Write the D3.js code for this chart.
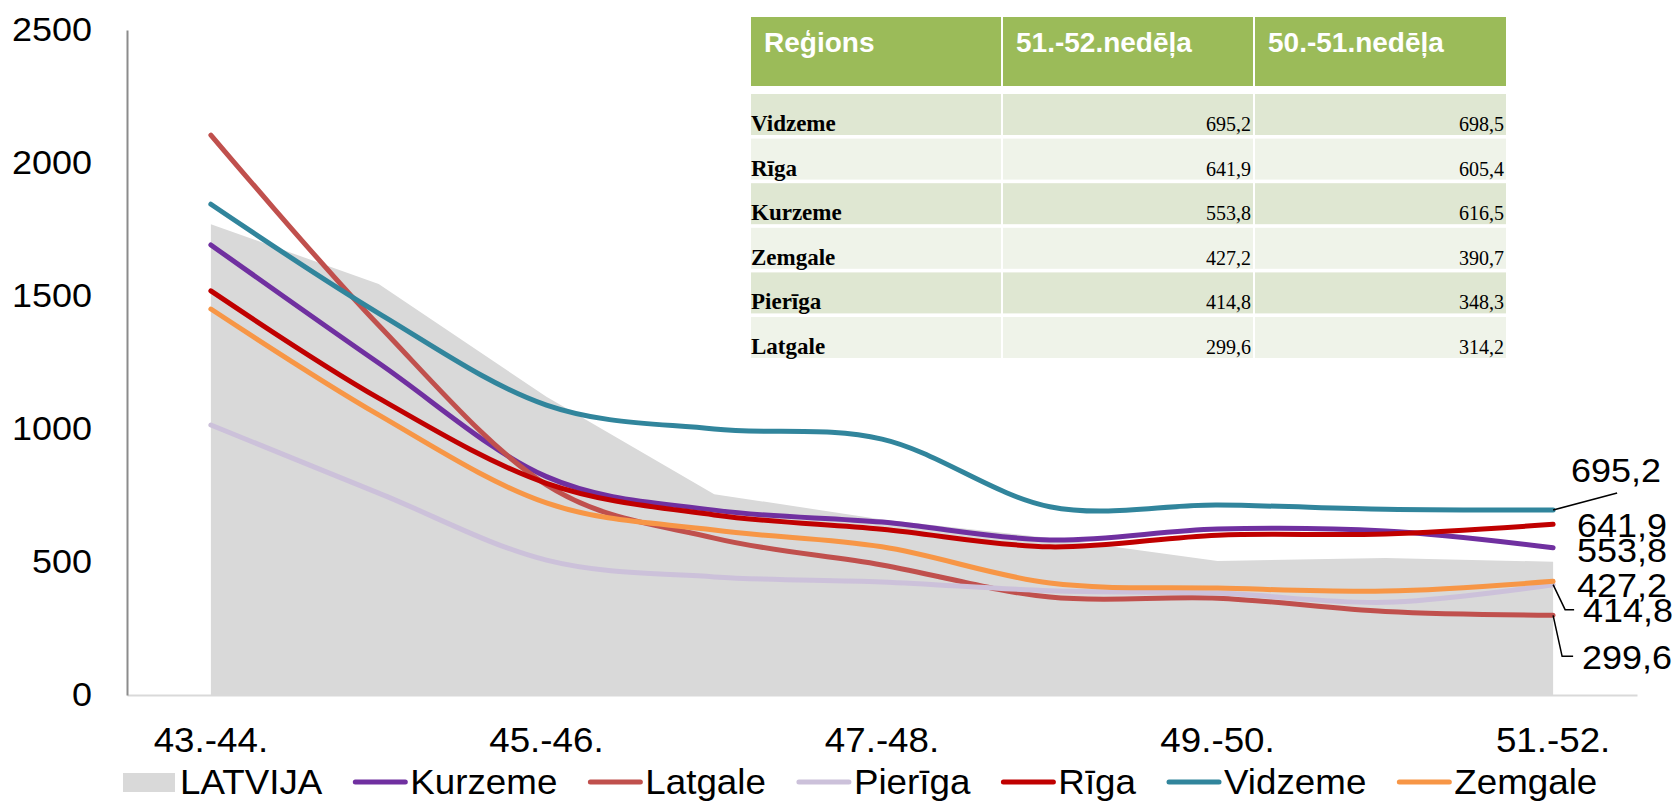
<!DOCTYPE html>
<html>
<head>
<meta charset="utf-8">
<script src="https://cdn.jsdelivr.net/npm/d3@7"></script>
<style>
  body { margin: 0; background: #fff; }
  svg { display: block; }
  text { font-family: "Liberation Sans", Arial, sans-serif; }
</style>
</head>
<body>
<div id="chart"></div>
<script>
// Categories (weeks)
const categories = ['43.-44.', '44.-45.', '45.-46.', '46.-47.', '47.-48.', '48.-49.', '49.-50.', '50.-51.', '51.-52.'];
const tickLabels = ['43.-44.', '45.-46.', '47.-48.', '49.-50.', '51.-52.'];
const yTicks = [0, 500, 1000, 1500, 2000, 2500];

// Series values
const latvija = [1770, 1545, 1121, 755, 660, 590, 504, 515, 501];
const kurzeme = [1692, 1248, 821, 695, 650, 583, 624, 616.5, 553.8];
const latgale = [2105, 1390, 790, 590, 489, 368, 364, 314.2, 299.6];
const pieriga = [1015, 759, 507, 444, 425, 392, 383, 348.3, 414.8];
const riga = [1519, 1116, 796, 677, 623, 557, 601, 605.4, 641.9];
const vidzeme = [1845, 1435, 1090, 1000, 962, 708, 714, 698.5, 695.2];
const zemgale = [1451, 1053, 722, 620, 557, 421, 402, 390.7, 427.2];

// Table
const tableHeader = ['Reģions', '51.-52.nedēļa', '50.-51.nedēļa'];
const tableRegions = ['Vidzeme', 'Rīga', 'Kurzeme', 'Zemgale', 'Pierīga', 'Latgale'];
const tablePrevWeek = [698.5, 605.4, 616.5, 390.7, 348.3, 314.2];

const lineSeries = [
  { name: 'Kurzeme', values: kurzeme, color: '#7030A0' },
  { name: 'Latgale', values: latgale, color: '#C0504D' },
  { name: 'Pierīga', values: pieriga, color: '#CCC1DA' },
  { name: 'Rīga', values: riga, color: '#C00000' },
  { name: 'Vidzeme', values: vidzeme, color: '#31859C' },
  { name: 'Zemgale', values: zemgale, color: '#F79646' }
];

// label offsets from the last point of each series (dx, dy, leader line)
const endLabels = {
  'Vidzeme': { dx: 18, dy: -28, leader: [[0, 0], [64, -17]] },
  'Rīga': { dx: 24, dy: 13 },
  'Kurzeme': { dx: 24, dy: 14 },
  'Zemgale': { dx: 24, dy: 16 },
  'Pierīga': { dx: 30, dy: 37, leader: [[0, 0], [12, 25], [21, 25]] },
  'Latgale': { dx: 29, dy: 54, leader: [[0, 0], [9, 41], [20, 41]] }
};

const width = 1677;
const height = 802;
const fmt = v => d3.format('.1f')(v).replace('.', ',');

// the original text is drawn a bit wider than the font
function widen(sel, k) {
  sel.each(function() {
    const w = this.getComputedTextLength();
    if (w > 0) {
      d3.select(this)
        .attr('textLength', w * k)
        .attr('lengthAdjust', 'spacingAndGlyphs');
    }
  });
}

const svg = d3.select('#chart')
  .append('svg')
  .attr('width', width)
  .attr('height', height);

const x = d3.scaleBand()
  .domain(categories)
  .range([127, 1637])
  .paddingInner(0)
  .paddingOuter(0);

const cx = c => x(c) + x.bandwidth() / 2;

const y = d3.scaleLinear()
  .domain([0, 2500])
  .range([695, 30]);

// Area for LATVIJA
const area = d3.area()
  .x((d, i) => cx(categories[i]))
  .y0(y(0))
  .y1(d => y(d));

svg.append('path')
  .datum(latvija)
  .attr('d', area)
  .attr('fill', '#D9D9D9');

// Axes
const xAxis = svg.append('g')
  .attr('transform', `translate(0,${y(0)})`)
  .call(d3.axisBottom(x)
    .tickSize(0)
    .tickPadding(32)
    .tickFormat(d => tickLabels.includes(d) ? d : ''));
xAxis.select('.domain').attr('stroke', '#D9D9D9').attr('stroke-width', 2);
xAxis.selectAll('text').attr('font-size', 35).attr('fill', '#000')
  .style('font-family', '"Liberation Sans", Arial, sans-serif');
widen(xAxis.selectAll('text'), 1.05);

const yAxis = svg.append('g')
  .attr('transform', 'translate(127,0)')
  .call(d3.axisLeft(y)
    .tickValues(yTicks)
    .tickSize(0)
    .tickSizeOuter(0)
    .tickPadding(35)
    .tickFormat(d3.format('d')));
yAxis.select('.domain').attr('stroke', '#8C8C8C').attr('stroke-width', 2);
yAxis.selectAll('text').attr('font-size', 33).attr('fill', '#000')
  .style('font-family', '"Liberation Sans", Arial, sans-serif');
widen(yAxis.selectAll('text'), 1.09);

// Lines
const line = d3.line()
  .x((d, i) => cx(categories[i]))
  .y(d => y(d))
  .curve(d3.curveCardinal.tension(0));

svg.selectAll('.series')
  .data(lineSeries)
  .enter()
  .append('path')
  .attr('class', 'series')
  .attr('d', d => line(d.values))
  .attr('fill', 'none')
  .attr('stroke', d => d.color)
  .attr('stroke-width', 5)
  .attr('stroke-linecap', 'round');

// End labels with leader lines
const last = categories[categories.length - 1];
lineSeries.forEach(s => {
  const lab = endLabels[s.name];
  const px = cx(last);
  const py = y(s.values[s.values.length - 1]);
  if (lab.leader) {
    svg.append('path')
      .attr('d', d3.line()(lab.leader.map(p => [px + p[0], py + p[1]])))
      .attr('fill', 'none')
      .attr('stroke', '#000')
      .attr('stroke-width', 1.5);
  }
  const t = svg.append('text')
    .attr('x', px + lab.dx)
    .attr('y', py + lab.dy)
    .attr('font-size', 33)
    .text(fmt(s.values[s.values.length - 1]));
  widen(t, 1.09);
});

// Legend
const legendItems = [{ name: 'LATVIJA', color: '#D9D9D9', area: true }].concat(lineSeries);
let lx = 123;
const ly = 782;
legendItems.forEach(item => {
  if (item.area) {
    svg.append('rect')
      .attr('x', lx).attr('y', ly - 9)
      .attr('width', 52).attr('height', 19)
      .attr('fill', item.color);
  } else {
    svg.append('line')
      .attr('x1', lx + 2).attr('x2', lx + 52)
      .attr('y1', ly).attr('y2', ly)
      .attr('stroke', item.color)
      .attr('stroke-width', 5)
      .attr('stroke-linecap', 'round');
  }
  const t = svg.append('text')
    .attr('x', lx + 57)
    .attr('y', ly + 12)
    .attr('font-size', 35)
    .text(item.name);
  const w = t.node().getComputedTextLength() * 1.05;
  widen(t, 1.05);
  lx += 57 + w + 31;
});

// Table
const colX = [751, 1003, 1255];
const colW = [250, 250, 251];
const header = svg.append('g');
tableHeader.forEach((h, i) => {
  header.append('rect')
    .attr('x', colX[i]).attr('y', 17)
    .attr('width', colW[i]).attr('height', 69)
    .attr('fill', '#9BBB59');
  header.append('text')
    .attr('x', colX[i] + 13)
    .attr('y', 52)
    .attr('fill', '#fff')
    .attr('font-size', 28)
    .attr('font-weight', 'bold')
    .text(h);
});

const rowTop = i => 94 + i * 44.6;
const rowH = 41;
const seriesByName = {};
lineSeries.forEach(s => { seriesByName[s.name] = s; });

tableRegions.forEach((r, i) => {
  const fill = i % 2 === 0 ? '#DFE7D2' : '#EFF3E9';
  colX.forEach((cxp, j) => {
    svg.append('rect')
      .attr('x', cxp).attr('y', rowTop(i))
      .attr('width', colW[j]).attr('height', rowH)
      .attr('fill', fill);
  });
  const base = rowTop(i) + rowH - 4;
  svg.append('text')
    .attr('x', colX[0])
    .attr('y', base)
    .attr('font-size', 23)
    .attr('font-weight', 'bold')
    .style('font-family', '"Liberation Serif", "Times New Roman", serif')
    .text(r);
  const cur = seriesByName[r].values;
  [cur[cur.length - 1], tablePrevWeek[i]].forEach((v, j) => {
    svg.append('text')
      .attr('x', colX[j + 1] + colW[j + 1] - 2)
      .attr('y', base)
      .attr('text-anchor', 'end')
      .attr('font-size', 20)
      .style('font-family', '"Liberation Serif", "Times New Roman", serif')
      .text(fmt(v));
  });
});
</script>
</body>
</html>
